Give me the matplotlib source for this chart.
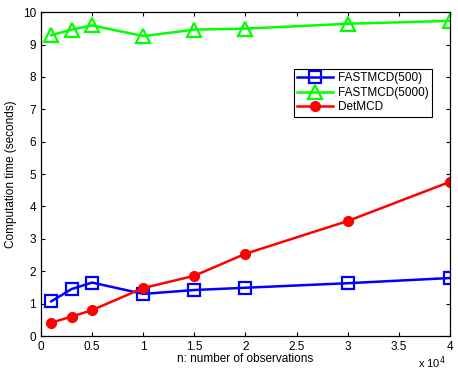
import matplotlib.pyplot as plt
from matplotlib.ticker import FuncFormatter

plt.rcParams['font.family'] = ['Liberation Sans', 'DejaVu Sans']

# data
n_obs = [1000, 3000, 5000, 10000, 15000, 20000, 30000, 40000]
fast500 = [1.07, 1.45, 1.65, 1.30, 1.42, 1.49, 1.63, 1.79]
fast5000 = [9.29, 9.46, 9.59, 9.26, 9.46, 9.49, 9.64, 9.73]
detmcd = [0.41, 0.60, 0.80, 1.48, 1.86, 2.54, 3.55, 4.76]

fig = plt.figure(figsize=(4.58, 3.74), dpi=100)
ax = fig.add_axes([0.0895, 0.1016, 0.893, 0.866])

ax.plot(n_obs, fast500, color='#0000ff', marker='s', markersize=8, markerfacecolor='none',
        markeredgewidth=1.6, linewidth=1.8, label='FASTMCD(500)')
ax.plot(n_obs, fast5000, color='#00ff00', marker='^', markersize=10, markerfacecolor='none',
        markeredgewidth=1.6, linewidth=1.8, label='FASTMCD(5000)')
ax.plot(n_obs, detmcd, color='#ff0000', marker='o', markersize=7, linewidth=1.8,
        label='DetMCD')

ax.set_xlim(0, 40000)
ax.set_ylim(0, 10)
ax.set_xticks([0, 5000, 10000, 15000, 20000, 25000, 30000, 35000, 40000])
ax.set_yticks(range(0, 11))
ax.xaxis.set_major_formatter(FuncFormatter(lambda v, p: '%g' % (v / 1e4)))
ax.tick_params(direction='in', top=True, right=True, labelsize=8.5, length=3, width=0.8)
for s in ax.spines.values():
    s.set_linewidth(0.9)

ax.set_xlabel('n: number of observations', fontsize=8.5, labelpad=0)
ax.set_ylabel('Computation time (seconds)', fontsize=8.5)
ax.text(0.99, -0.058, r'x 10$^4$', transform=ax.transAxes, fontsize=8, ha='right', va='top')

leg = ax.legend(loc='upper right', bbox_to_anchor=(0.97, 0.843), fontsize=8.5, fancybox=False,
                framealpha=1, edgecolor='black', handlelength=3, borderpad=0.3,
                labelspacing=0.2, handletextpad=0.4)
leg.get_frame().set_linewidth(0.8)

fig.savefig('out.png', dpi=100)
